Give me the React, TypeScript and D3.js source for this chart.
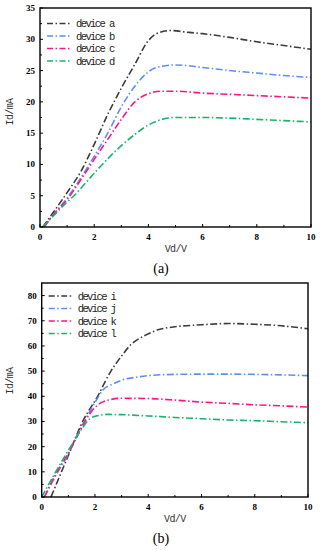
import * as d3 from "d3";

// panel (a)
const namesA = ["device a", "device b", "device c", "device d"];
const deviceA = [[0.1,0],[0.5,2.4],[1,5.5],[1.5,8.8],[2,13.2],[2.5,18],[3,22.2],[3.5,26],[4,29.8],[4.3,30.9],[4.8,31.4],[5.5,31.1],[6,30.9],[7,30.3],[8,29.6],[9,29],[10,28.4]];
const deviceB = [[0.15,0],[0.5,2],[1,4.6],[1.5,7.8],[2,11.3],[2.5,15],[3,19.2],[3.5,22.5],[4,24.8],[4.5,25.7],[5,25.9],[6,25.5],[7,25],[8,24.6],[9,24.2],[10,23.9]];
const deviceC = [[0.15,0],[0.5,2],[1,4.4],[1.5,7.5],[2,10.8],[2.5,14],[3,17.2],[3.5,20],[4,21.3],[4.5,21.7],[5,21.7],[6,21.4],[7,21.2],[8,21],[9,20.8],[10,20.6]];
const deviceD = [[0.1,0],[0.5,1.8],[1,4],[1.25,5],[2,8.6],[2.3,10],[3,13],[3.5,14.8],[4,16.3],[4.5,17.2],[5,17.5],[6,17.5],[7,17.4],[8,17.2],[9,17],[10,16.8]];

// panel (b)
const namesB = ["device i", "device j", "device k", "device l"];
const deviceI = [[0.35,0],[1,16.5],[1.54,30],[2.1,40],[2.6,50],[3,56],[3.3,60],[3.9,64.3],[4.4,66.5],[5,67.6],[6,68.4],[7,68.9],[8,68.6],[9,68],[10,66.8]];
const deviceJ = [[0.1,0],[0.5,8],[1,17],[1.5,28],[2,37.5],[2.3,42.5],[2.7,45],[3,46.4],[3.5,47.5],[4,48.2],[5,48.7],[6,48.8],[7,48.8],[8,48.7],[9,48.5],[10,48.2]];
const deviceK = [[0.1,0],[0.5,8.5],[1,17.5],[1.5,27.5],[1.8,33],[2.1,36.5],[2.5,38.5],[3,39.2],[4,39.1],[5,38.5],[6,37.7],[7,37.2],[8,36.6],[9,36.2],[10,35.7]];
const deviceL = [[0,0],[0.5,9.5],[1,18.5],[1.5,27],[1.8,31],[2.1,32.3],[2.5,32.8],[3,32.7],[4,32.2],[5,31.6],[6,31.1],[7,30.6],[8,30.3],[9,29.9],[10,29.5]];

const colors = ["#3c3c3c", "#5e8ef2", "#ff1585", "#16b56c"];
const xTicks = [0, 2, 4, 6, 8, 10];
const yTicksA = [0, 5, 10, 15, 20, 25, 30, 35];
const yTicksB = [0, 10, 20, 30, 40, 50, 60, 70, 80];

const dash = "7 2.5 1.5 2.5";
const mono = "'Liberation Mono', monospace";
const serif = "'Liberation Serif', serif";

function Panel({ top, left, right, bottom, yMax, yTicks, yMinor, names, series, caption, legendTop, ylabY }) {
  const x = d3.scaleLinear().domain([0, 10]).range([left, right]);
  const y = d3.scaleLinear().domain([0, yMax]).range([bottom, top]);
  const line = d3
    .line()
    .x((d) => x(d[0]))
    .y((d) => y(d[1]))
    .curve(d3.curveMonotoneX);
  const xMinor = d3.range(1, 10, 2);
  const yMin = d3.range(yMinor, yMax, yMinor * 2);

  return (
    <g>
      {series.map((s, i) => (
        <path key={i} d={line(s)} fill="none" stroke={colors[i]} strokeWidth={1.6} strokeDasharray={dash} />
      ))}
      <rect x={left} y={top} width={right - left} height={bottom - top} fill="none" stroke="#000" strokeWidth={1.4} />
      {xTicks.map((t) => (
        <g key={"x" + t}>
          <line x1={x(t)} x2={x(t)} y1={bottom} y2={bottom - 3} stroke="#000" strokeWidth={1} />
          <text x={x(t)} y={bottom + 13} textAnchor="middle" fontFamily={serif} fontWeight="bold" fontSize={9}>
            {t}
          </text>
        </g>
      ))}
      {xMinor.map((t) => (
        <line key={"xm" + t} x1={x(t)} x2={x(t)} y1={bottom} y2={bottom - 2} stroke="#000" strokeWidth={1} />
      ))}
      {yTicks.map((t) => (
        <g key={"y" + t}>
          <line x1={left} x2={left + 3} y1={y(t)} y2={y(t)} stroke="#000" strokeWidth={1} />
          <text x={left - 5} y={y(t) + 3} textAnchor="end" fontFamily={serif} fontWeight="bold" fontSize={9}>
            {t}
          </text>
        </g>
      ))}
      {yMin.map((t) => (
        <line key={"ym" + t} x1={left} x2={left + 2} y1={y(t)} y2={y(t)} stroke="#000" strokeWidth={1} />
      ))}
      <text x={(left + right) / 2} y={bottom + 25} textAnchor="middle" fontFamily={mono} fontSize={10} letterSpacing={-0.6} fill="#333">
        Vd/V
      </text>
      <text
        transform={`translate(13, ${ylabY}) rotate(-90)`}
        textAnchor="middle"
        fontFamily={mono}
        fontSize={10}
        letterSpacing={-0.6}
        fill="#333"
      >
        Id/mA
      </text>
      {names.map((n, i) => (
        <g key={n}>
          <line
            x1={left + 7}
            x2={left + 31}
            y1={legendTop + i * 12.5}
            y2={legendTop + i * 12.5}
            stroke={colors[i]}
            strokeWidth={1.6}
            strokeDasharray="6 2.5 1.5 2.5"
          />
          <text x={left + 36} y={legendTop + i * 12.5 + 3.5} fontFamily={mono} fontSize={10.5} letterSpacing={-1.6} fill="#222">
            {n}
          </text>
        </g>
      ))}
      <text x={161} y={bottom + 46} textAnchor="middle" fontFamily={serif} fontSize={14}>
        {caption}
      </text>
    </g>
  );
}

export default function App() {
  return (
    <svg width={322} height={550} style={{ position: "absolute", left: 0, top: 0, background: "#fff" }}>
      <Panel
        top={8}
        left={40}
        right={311}
        bottom={227}
        yMax={35}
        yTicks={yTicksA}
        yMinor={2.5}
        names={namesA}
        series={[deviceA, deviceB, deviceC, deviceD]}
        caption="(a)"
        legendTop={23.5}
        ylabY={112}
      />
      <Panel
        top={283}
        left={41.7}
        right={308}
        bottom={497}
        yMax={85}
        yTicks={yTicksB}
        yMinor={5}
        names={namesB}
        series={[deviceI, deviceJ, deviceK, deviceL]}
        caption="(b)"
        legendTop={296}
        ylabY={381}
      />
    </svg>
  );
}
